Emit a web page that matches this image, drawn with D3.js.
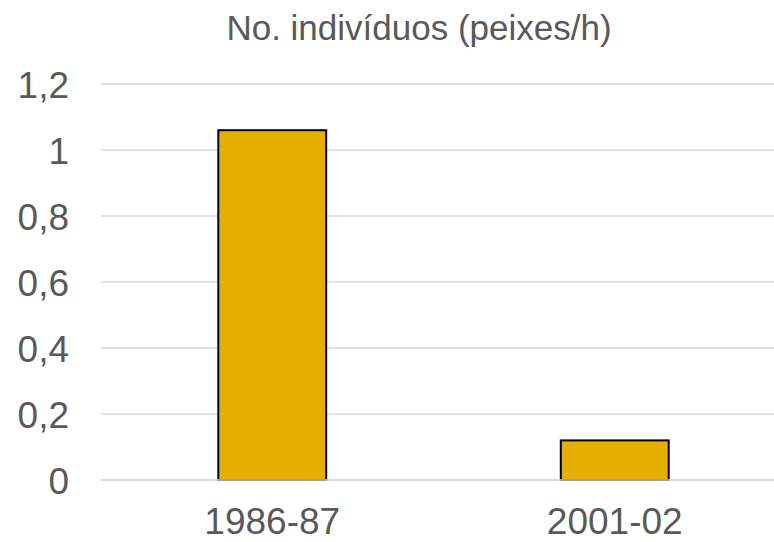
<!DOCTYPE html>
<html>
<head>
<meta charset="utf-8">
<script src="https://cdn.jsdelivr.net/npm/d3@7"></script>
<style>
  html, body { margin: 0; padding: 0; background: #fff; }
  svg { display: block; }
  text { font-family: "Liberation Sans", Arial, sans-serif; fill: #595959; }
</style>
</head>
<body>
<script>
// Catch rate by survey period
const title = "No. indivíduos (peixes/h)";
const periods = ["1986-87", "2001-02"];
const values = [1.06, 0.12];
const yTicks = [0, 0.2, 0.4, 0.6, 0.8, 1, 1.2];

const W = 774, H = 542;
const svg = d3.select("body").append("svg").attr("width", W).attr("height", H);

const x = d3.scaleBand().domain(periods).range([101, 786])
  .paddingInner(0.685).paddingOuter(0.3425);
const y = d3.scaleLinear().domain([0, 1.2]).range([480, 84]);

const fmt = v => String(v).replace(".", ",");

// horizontal gridlines
svg.append("g").selectAll("line").data(yTicks).join("line")
  .attr("x1", 101).attr("x2", W)
  .attr("y1", d => y(d)).attr("y2", d => y(d))
  .attr("stroke", "#d9d9d9").attr("stroke-width", 1.5);

// y axis labels
const yAxis = d3.axisLeft(y).tickValues(yTicks).tickFormat(fmt).tickSize(0).tickPadding(0);
const gy = svg.append("g").attr("transform", "translate(69,0)").call(yAxis);
gy.select(".domain").remove();
gy.selectAll("text").attr("font-size", 37).attr("fill", "#595959")
  .attr("font-family", "Liberation Sans, Arial, sans-serif")
  .attr("dy", "0.36em");

// bars
svg.append("g").selectAll("rect").data(values).join("rect")
  .attr("x", (d, i) => x(periods[i]))
  .attr("y", d => y(d))
  .attr("width", x.bandwidth())
  .attr("height", d => y(0) - y(d))
  .attr("fill", "#E6AF00")
  .attr("stroke", "#000").attr("stroke-width", 2);

// baseline
svg.append("line").attr("x1", 101).attr("x2", W)
  .attr("y1", y(0)).attr("y2", y(0))
  .attr("stroke", "#d9d9d9").attr("stroke-width", 1.5);

// x axis labels
const xAxis = d3.axisBottom(x).tickSize(0).tickPadding(0);
const gx = svg.append("g").attr("transform", "translate(0,534)").call(xAxis);
gx.select(".domain").remove();
gx.selectAll("text").attr("font-size", 37).attr("fill", "#595959")
  .attr("font-family", "Liberation Sans, Arial, sans-serif")
  .attr("dy", 0);

// title
svg.append("text").attr("x", 419).attr("y", 40)
  .attr("text-anchor", "middle").attr("font-size", 35)
  .text(title);
</script>
</body>
</html>
